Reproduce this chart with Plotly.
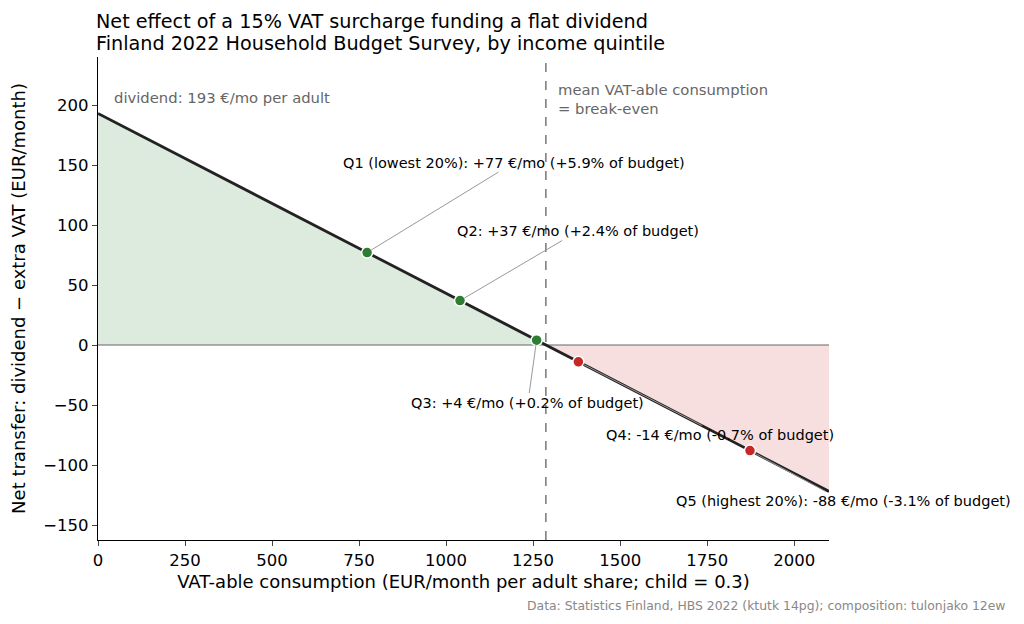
import plotly.graph_objects as go

# VAT surcharge / flat dividend model
vat_rate = 0.15
dividend = 193
x_max = 2100

# quintile results
quintiles = ["Q1 (lowest 20%)", "Q2", "Q3", "Q4", "Q5 (highest 20%)"]
consumption = [773, 1040, 1260, 1380, 1873]
net_eur = [77, 37, 4, -14, -88]
share_pct = [5.9, 2.4, 0.2, -0.7, -3.1]

# label positions (data coords) for the callouts
label_x = [1195, 1380, 1235, 1788, 2141]
label_y = [152, 95, -48, -75, -130]

title_lines = ["Net effect of a 15% VAT surcharge funding a flat dividend",
               "Finland 2022 Household Budget Survey, by income quintile"]

breakeven = dividend / vat_rate


def net(x):
    return dividend - vat_rate * x


fig = go.Figure()

# shaded gain / loss regions
fig.add_trace(go.Scatter(
    x=[0, breakeven], y=[net(0), 0], mode="lines", line=dict(width=0),
    fill="tozeroy", fillcolor="rgba(46,125,50,0.16)", hoverinfo="skip", showlegend=False))
fig.add_trace(go.Scatter(
    x=[breakeven, x_max], y=[0, net(x_max)], mode="lines", line=dict(width=0),
    fill="tozeroy", fillcolor="rgba(198,40,40,0.15)", hoverinfo="skip", showlegend=False))

# zero line
fig.add_trace(go.Scatter(
    x=[0, x_max], y=[0, 0], mode="lines", line=dict(color="#666666", width=1.2),
    hoverinfo="skip", showlegend=False))

# net transfer line
fig.add_trace(go.Scatter(
    x=[0, x_max], y=[net(0), net(x_max)], mode="lines",
    line=dict(color="#222222", width=2.8), showlegend=False))

colors = ["#2e7d32" if v > 0 else "#c62828" for v in net_eur]
fig.add_trace(go.Scatter(
    x=consumption, y=net_eur, mode="markers",
    marker=dict(size=11, color=colors, line=dict(color="white", width=1.5)),
    showlegend=False))

fig.add_vline(x=breakeven, line=dict(color="#777777", width=1.5, dash="dash"))

for q, cx, ny, sp, lx, ly in zip(quintiles, consumption, net_eur, share_pct, label_x, label_y):
    fig.add_annotation(
        x=cx, y=ny, ax=lx, ay=ly, axref="x", ayref="y", xref="x", yref="y",
        text=f"{q}: {ny:+d} €/mo ({sp:+.1f}% of budget)",
        showarrow=True, arrowhead=0, arrowwidth=1, arrowcolor="#999999",
        font=dict(size=14.5, color="black"), standoff=5)

fig.add_annotation(x=40, y=206, xref="x", yref="y", xanchor="left", yanchor="middle",
                   text="dividend: 193 €/mo per adult", showarrow=False,
                   font=dict(size=14.8, color="#666666"))
fig.add_annotation(x=breakeven + 28, y=222, xref="x", yref="y", xanchor="left", yanchor="top",
                   text="mean VAT-able consumption<br>= break-even", showarrow=False, align="left",
                   font=dict(size=14.8, color="#666666"))

# title: two left-aligned lines above the plot
for line, shift in zip(title_lines, [36, 14]):
    fig.add_annotation(x=0, y=1, xref="paper", yref="paper", xanchor="left", yanchor="middle",
                       yshift=shift, xshift=-4, showarrow=False, text=line,
                       font=dict(size=19.2, color="black"))

fig.add_annotation(x=1, y=0, xref="paper", yref="paper", xanchor="right", yanchor="middle",
                   text="Data: Statistics Finland, HBS 2022 (ktutk 14pg); composition: tulonjako 12ew",
                   showarrow=False, font=dict(size=12.4, color="#888888"), xshift=179, yshift=-65)

fig.update_layout(
    width=1008, height=608,
    margin=dict(l=90, r=187, t=49, b=76),
    plot_bgcolor="white", paper_bgcolor="white",
    font=dict(family="DejaVu Sans", color="black"),
    xaxis=dict(range=[0, x_max], tickvals=[0, 250, 500, 750, 1000, 1250, 1500, 1750, 2000],
               showgrid=False, zeroline=False, showline=True, linecolor="black", linewidth=1.2,
               ticks="outside", ticklen=5, tickfont=dict(size=16.5),
               title=dict(text="VAT-able consumption (EUR/month per adult share; child = 0.3)",
                          font=dict(size=18), standoff=6)),
    yaxis=dict(range=[-162.5, 240], tickvals=[-150, -100, -50, 0, 50, 100, 150, 200],
               showgrid=False, zeroline=False, showline=True, linecolor="black", linewidth=1.2,
               ticks="outside", ticklen=5, tickfont=dict(size=16.5),
               title=dict(text="Net transfer: dividend − extra VAT (EUR/month)",
                          font=dict(size=18), standoff=12)),
)

fig.write_html("out.html")
